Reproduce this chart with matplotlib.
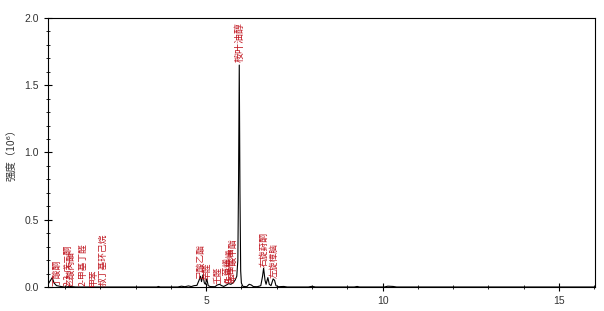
import numpy as np
import matplotlib
matplotlib.use("Agg")
import matplotlib.pyplot as plt
from matplotlib.ticker import MultipleLocator

plt.rcParams['font.family'] = ['Noto Sans CJK SC', 'DejaVu Sans']

# chromatogram trace (time in min, intensity in 10^6)
rt = [0.52, 0.58, 0.64, 0.69, 0.76, 0.90, 1.00, 1.15, 1.30, 3.60, 3.65, 3.70,
      4.20, 4.30, 4.40, 4.50, 4.58, 4.66, 4.74, 4.80, 4.84, 4.87, 4.91, 4.95,
      4.98, 5.02, 5.06, 5.12, 5.25, 5.32, 5.38, 5.44, 5.50, 5.58, 5.64, 5.70,
      5.76, 5.82, 5.87, 5.90, 5.92, 5.94, 5.96, 5.98, 6.00, 6.04, 6.15, 6.22,
      6.28, 6.34, 6.45, 6.55, 6.60, 6.63, 6.67, 6.70, 6.75, 6.79, 6.84, 6.90,
      6.94, 6.98, 7.05, 7.20, 7.30, 7.90, 8.00, 8.10, 9.20, 9.28, 9.35, 10.05,
      10.15, 10.30, 10.40, 16.02]
intensity = [0.02, 0.045, 0.07, 0.03, 0.01, 0.003, 0.0, 0.004, 0.0, 0.0, 0.004, 0.0,
             0.0, 0.006, 0.002, 0.008, 0.003, 0.01, 0.012, 0.05, 0.08, 0.04, 0.09, 0.03,
             0.02, 0.06, 0.01, 0.003, 0.002, 0.015, 0.02, 0.01, 0.004, 0.015, 0.025, 0.02,
             0.03, 0.05, 0.08, 0.2, 0.8, 1.65, 0.7, 0.12, 0.03, 0.005, 0.002, 0.02,
             0.015, 0.003, 0.002, 0.01, 0.08, 0.14, 0.05, 0.02, 0.07, 0.02, 0.01, 0.06,
             0.05, 0.01, 0.002, 0.004, 0.0, 0.0, 0.005, 0.0, 0.0, 0.004, 0.0, 0.0,
             0.006, 0.004, 0.0, 0.0]

# peak annotations
peak_names = ["丁酸酮", "2,3-戊二酮", "乙酸丙酯", "2-甲基丁醛", "甲苯", "叔丁基环己烷",
              "己酸乙酯", "辛醛", "壬醛", "α-蒎烯", "β-月桂烯", "苯甲酸甲酯",
              "桉叶油醇", "右旋葑酮", "左旋樟脑"]
peak_rt = [0.78, 1.08, 1.17, 1.50, 1.82, 2.08,
           4.84, 5.04, 5.34, 5.58, 5.67, 5.78,
           5.94, 6.63, 6.93]
peak_y = [0.01, 0.01, 0.01, 0.01, 0.01, 0.01,
          0.07, 0.05, 0.02, 0.03, 0.03, 0.04,
          1.67, 0.15, 0.07]

fig = plt.figure(figsize=(6.04, 3.11), dpi=100)
ax = fig.add_axes([0.0795, 0.0772, 0.9055, 0.865])

ax.plot(rt, intensity, color='k', lw=0.8)

for name, x, y in zip(peak_names, peak_rt, peak_y):
    fs = 7.2 if name == "桉叶油醇" else 6.3
    ax.text(x, y, name, rotation=90, ha='center', va='bottom',
            fontsize=fs, color='#c0141e')

ax.set_xlim(0.52, 16.02)
ax.set_ylim(0, 2.0)
ax.xaxis.set_major_locator(MultipleLocator(5))
ax.xaxis.set_minor_locator(MultipleLocator(1))
ax.yaxis.set_major_locator(MultipleLocator(0.5))
ax.yaxis.set_minor_locator(MultipleLocator(0.1))
ax.yaxis.set_major_formatter(matplotlib.ticker.FormatStrFormatter('%.1f'))
ax.tick_params(which='major', direction='inout', length=6, width=0.8,
               labelsize=7.5, labelcolor='#333333')
ax.tick_params(which='minor', direction='inout', length=3, width=0.6)
for lab in ax.get_xticklabels() + ax.get_yticklabels():
    lab.set_family(['Liberation Sans', 'DejaVu Sans'])
for s in ax.spines.values():
    s.set_linewidth(0.8)

ax.set_ylabel("强度（10⁶）", fontsize=7.5, color='#333333', labelpad=5)
ax.set_xlabel("时间(min)", fontsize=7.5, color='#333333')

fig.savefig("out.png", dpi=100)
